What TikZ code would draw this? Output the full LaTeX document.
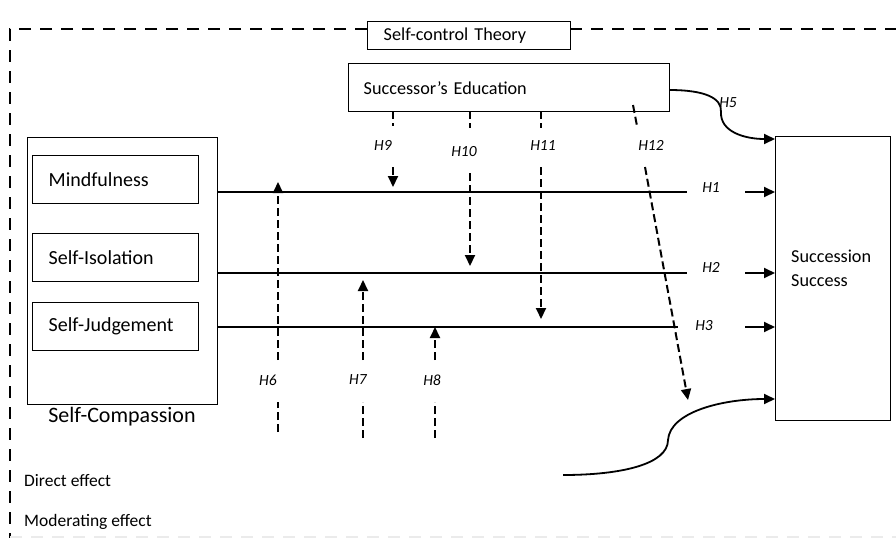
\documentclass[tikz,border=0pt]{standalone}
\usepackage{fontspec}
\setmainfont{Carlito}
\usetikzlibrary{arrows.meta}
\newcommand\lblfont{\fontsize{18.2}{24}\selectfont}
\newcommand\inlblfont{\fontsize{20}{24}\selectfont}
\newcommand\bigfont{\fontsize{22}{26}\selectfont}
\newcommand\hfont{\fontsize{15.5}{18}\selectfont\itshape}
\newcommand\legfont{\fontsize{17.5}{20}\selectfont}
\begin{document}
\begin{tikzpicture}[x=1pt,y=-1pt,
  box/.style={draw, line width=1.4pt, inner sep=0pt, font=\lblfont},
  tbox/.style={box, align=left, inner xsep=16pt},
  ibox/.style={tbox, font=\inlblfont, anchor=north west, minimum width=166pt, minimum height=48pt, text width=134pt},
  direct/.style={line width=1.8pt},
  dtip/.style={direct, -{Triangle[length=11pt,width=10pt]}},
  mod/.style={line width=2pt, dash pattern=on 8pt off 4pt},
  modtip/.style={mod, -{Triangle[length=11pt,width=10pt]}},
  border/.style={line width=2.4pt, dash pattern=on 12pt off 9pt},
  hlab/.style={font=\hfont, inner sep=1pt},
  leg/.style={font=\legfont, anchor=west, inner sep=0pt}]
\useasboundingbox (0,0) rectangle (896,538);

% theory box and border
\node[tbox, anchor=north west, minimum width=203pt, minimum height=28pt, text width=171pt] (sct) at (367,21) {Self-control Theory};
\coordinate (b1) at (367,29);
\coordinate (b2) at (10,29);
\coordinate (b3) at (10,538);
\coordinate (b4) at (570,29);
\coordinate (b5) at (896,29);
\draw[border] (b1) -- (b2) -- (b3);
\draw[border] (b4) -- (b5);
\coordinate (bb1) at (10,537);
\coordinate (bb2) at (896,537);
\draw[black!8, line width=1.5pt, dash pattern=on 12pt off 9pt] (bb1) -- (bb2);

% moderator
\node[tbox, anchor=north west, minimum width=321pt, minimum height=48pt, text width=291pt, inner xsep=15pt] (se) at (348,63) {Successor’s Education};

% self-compassion
\node[box, anchor=north west, minimum width=190pt, minimum height=267pt] (sc) at (27,137) {};
\node[ibox] (mf) at (32,155) {Mindfulness};
\node[ibox] (si) at (32,233) {Self-Isolation};
\node[ibox] (sj) at (32,302) {Self-Judgement};
\node[font=\bigfont, inner sep=0pt] (sclab) at (122,417) {Self-Compassion};

% succession success
\node[box, anchor=north west, minimum width=115pt, minimum height=284pt] (ss) at (775,136) {};
\node[font=\lblfont, anchor=west, align=left, inner sep=0pt] (sst) at (791,268) {Succession\\Success};

% direct paths
\coordinate (l1) at (687,192);
\coordinate (l2) at (687,273);
\coordinate (l3) at (678,327);
\draw[direct] (sc.north east |- l1) -- (l1);
\draw[direct] (sc.north east |- l2) -- (l2);
\draw[direct] (sc.north east |- l3) -- (l3);
\node[hlab] (h1) at (711,188) {H1};
\node[hlab] (h2) at (711,267) {H2};
\node[hlab] (h3) at (704,326) {H3};
\coordinate (a1) at (745,192);
\coordinate (a2) at (745,273);
\coordinate (a3) at (745,327);
\draw[dtip] (a1) -- (a1 -| ss.west);
\draw[dtip] (a2) -- (a2 -| ss.west);
\draw[dtip] (a3) -- (a3 -| ss.west);

% H5 curve
\coordinate (c5) at (669,90);
\coordinate (c5e) at (775,139);
\draw[dtip] (c5) .. controls (705,90) and (722,98) .. (721,112) .. controls (720,132) and (745,139) .. (c5e);
\node[hlab] (h5) at (728,103) {H5};

% bottom curve
\coordinate (bc) at (563,475);
\coordinate (bce) at (775,399);
\draw[dtip] (bc) .. controls (622,475) and (668,464) .. (668,440) .. controls (670,412) and (722,399) .. (bce);

% moderating arrows from below
\node[hlab] (h6) at (268,380) {H6};
\node[hlab] (h7) at (358,380) {H7};
\node[hlab] (h8) at (432,380) {H8};
\coordinate (h6a) at (278,432); \coordinate (h6b) at (278,402);
\coordinate (h6c) at (278,360); \coordinate (h6d) at (278,182);
\coordinate (h7a) at (363,438); \coordinate (h7b) at (363,402);
\coordinate (h7c) at (363,360); \coordinate (h7d) at (363,280);
\coordinate (h8a) at (435,438); \coordinate (h8b) at (435,402);
\coordinate (h8c) at (435,360); \coordinate (h8d) at (435,327);
\draw[mod] (h6a) -- (h6b);
\draw[modtip] (h6c) -- (h6d);
\draw[mod] (h7a) -- (h7b);
\draw[modtip] (h7c) -- (h7d);
\draw[mod] (h8a) -- (h8b);
\draw[modtip] (h8c) -- (h8d);

% moderating arrows from above
\node[hlab] (h9) at (383,145) {H9};
\node[hlab] (h10) at (464,152) {H10};
\node[hlab] (h11) at (543,146) {H11};
\node[hlab] (h12) at (651,145) {H12};
\coordinate (h9a) at (393,111); \coordinate (h9b) at (393,126);
\coordinate (h9c) at (393,167); \coordinate (h9d) at (393,187);
\coordinate (h10a) at (470,111); \coordinate (h10b) at (470,128);
\coordinate (h10c) at (470,173); \coordinate (h10d) at (470,266);
\coordinate (h11a) at (541,111); \coordinate (h11b) at (541,128);
\coordinate (h11c) at (541,167); \coordinate (h11d) at (541,319);
\coordinate (h12a) at (633,105); \coordinate (h12b) at (637,126);
\coordinate (h12c) at (645,167); \coordinate (h12d) at (688,400);
\draw[mod] (h9a) -- (h9b);
\draw[modtip] (h9c) -- (h9d);
\draw[mod] (h10a) -- (h10b);
\draw[modtip] (h10c) -- (h10d);
\draw[mod] (h11a) -- (h11b);
\draw[modtip] (h11c) -- (h11d);
\draw[mod] (h12a) -- (h12b);
\draw[modtip] (h12c) -- (h12d);

% legend
\node[leg] (de) at (24,481) {Direct effect};
\node[leg] (me) at (24,522) {Moderating effect};
\end{tikzpicture}
\end{document}
